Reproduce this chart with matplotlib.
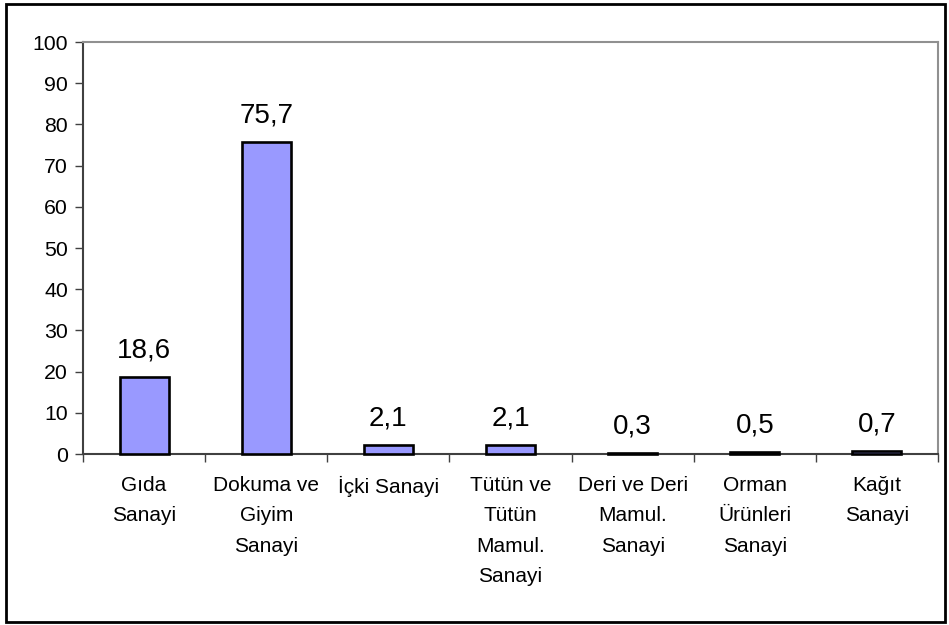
import matplotlib.pyplot as plt
from matplotlib.patches import Rectangle

plt.rcParams['font.family'] = ['Liberation Sans', 'DejaVu Sans']

kategoriler = ['Gıda\nSanayi', 'Dokuma ve\nGiyim\nSanayi', 'İçki Sanayi',
               'Tütün ve\nTütün\nMamul.\nSanayi', 'Deri ve Deri\nMamul.\nSanayi',
               'Orman\nÜrünleri\nSanayi', 'Kağıt\nSanayi']
degerler = [18.6, 75.7, 2.1, 2.1, 0.3, 0.5, 0.7]
etiketler = ['18,6', '75,7', '2,1', '2,1', '0,3', '0,5', '0,7']

fig = plt.figure(figsize=(9.49, 6.25), dpi=100)
ax = fig.add_axes([0.0875, 0.2736, 0.9009, 0.6592])

x = list(range(len(kategoriler)))
bars = ax.bar(x, degerler, width=0.4, color='#9999ff', edgecolor='black', linewidth=1.9)
for b in bars:
    b.set_clip_on(False)
    b.set_zorder(3)

for xi, v, t in zip(x, degerler, etiketler):
    ax.annotate(t, (xi, v), xytext=(0, 14), textcoords='offset points',
                ha='center', va='baseline', fontsize=20)

ax.set_xlim(-0.5, len(kategoriler) - 0.5)
ax.set_ylim(0, 100)
ax.set_yticks(range(0, 101, 10))
ax.tick_params(axis='y', labelsize=15.3, length=6, width=1, color='#404040', pad=5)

ax.set_xticks(x)
ax.set_xticklabels(kategoriler, fontsize=15, linespacing=1.75, va='top')
ax.tick_params(axis='x', which='major', length=0, pad=16)
ax.set_xticks([i - 0.5 for i in range(len(kategoriler) + 1)], minor=True)
ax.tick_params(axis='x', which='minor', length=6, width=1, color='#404040')

ax.spines['left'].set_color('#404040')
ax.spines['bottom'].set_color('#404040')
ax.spines['top'].set_color('#909090')
ax.spines['right'].set_color('#909090')
for s in ax.spines.values():
    s.set_linewidth(1.5)

# çerçeve
fig.patches.append(Rectangle((6 / 949, 3 / 625), 939 / 949, 618 / 625,
                             transform=fig.transFigure, fill=False,
                             edgecolor='black', linewidth=2))

fig.savefig('out.png', dpi=100)
